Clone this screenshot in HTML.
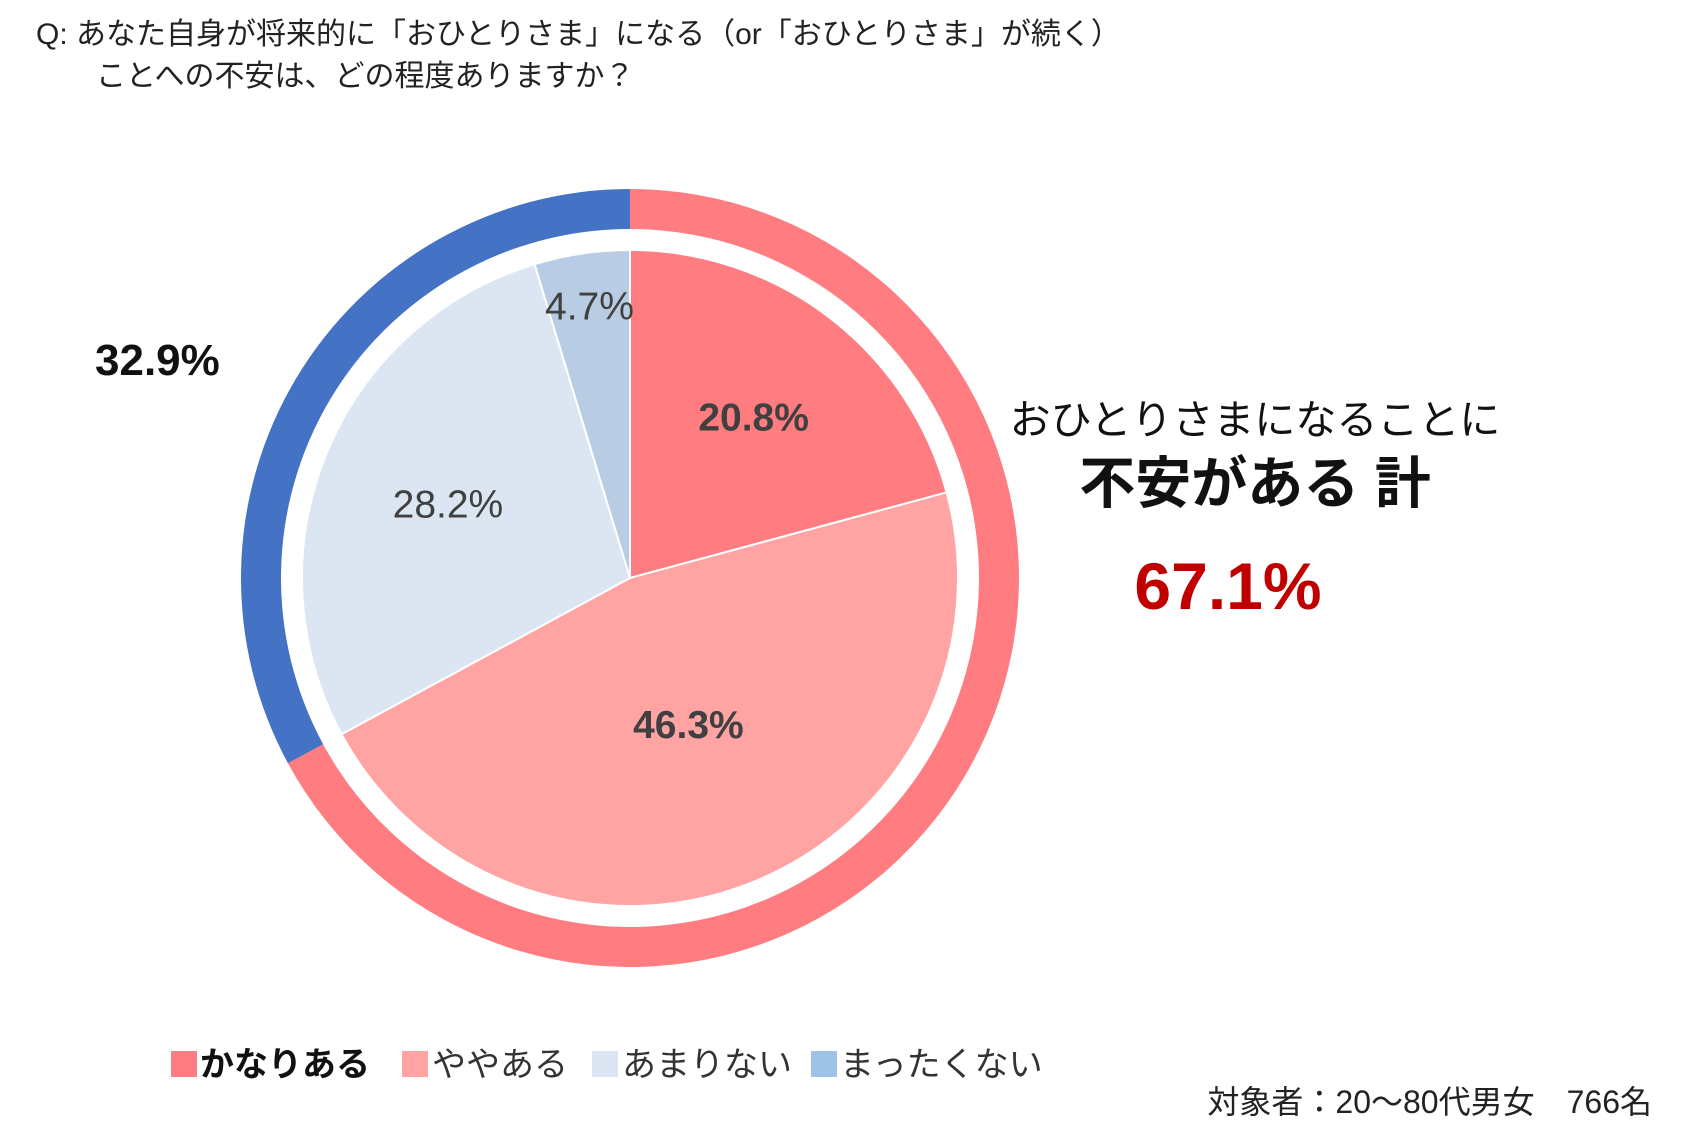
<!DOCTYPE html>
<html><head><meta charset="utf-8"><style>
body{margin:0;background:#fff;}
svg text{font-family:"Liberation Sans","Noto Sans CJK JP",sans-serif;}
</style></head><body>
<svg id="chart" width="1684" height="1136" viewBox="0 0 1684 1136" xmlns="http://www.w3.org/2000/svg">
<rect width="1684" height="1136" fill="#fff"/>
<text x="36" y="44" font-size="30" fill="#222">Q: あなた自身が将来的に「おひとりさま」になる（or「おひとりさま」が続く）</text>
<text x="96" y="86" font-size="30" fill="#222">ことへの不安は、どの程度ありますか？</text>
<g id="ring"></g>
<g id="pie"></g>
<g id="labels"></g>
<text id="ringLabelBlue" x="95" y="375" font-size="44" font-weight="bold" fill="#111">32.9%</text>
<text x="1255" y="434" font-size="41" text-anchor="middle" fill="#111">おひとりさまになることに</text>
<text x="1255" y="503" font-size="56" font-weight="bold" text-anchor="middle" fill="#111">不安がある 計</text>
<text id="ringLabelPink" x="1228" y="609" font-size="66" font-weight="bold" text-anchor="middle" fill="#c00000">67.1%</text>
<g>
 <rect x="171" y="1051" width="26" height="26" fill="#ff7c80"/>
 <text x="200" y="1076" font-size="34" font-weight="bold" fill="#111">かなりある</text>
 <rect x="402" y="1051" width="26" height="26" fill="#ffa3a3"/>
 <text x="432" y="1076" font-size="34" fill="#333">ややある</text>
 <rect x="592" y="1051" width="26" height="26" fill="#dce6f2"/>
 <text x="622" y="1076" font-size="34" fill="#333">あまりない</text>
 <rect x="811" y="1051" width="26" height="26" fill="#9dc3e6"/>
 <text x="840" y="1076" font-size="34" fill="#333">まったくない</text>
</g>
<text x="1652" y="1113" font-size="32" text-anchor="end" fill="#222">対象者：20～80代男女　766名</text>
</svg>
<script>
const categories=["かなりある","ややある","あまりない","まったくない"];
const values=[20.8,46.3,28.2,4.7];
const ringCategories=["不安がある","不安がない"];
const ringValues=[67.1,32.9];
const sliceColors=["#ff7c80","#ffa3a3","#dce6f2","#b8cce4"];
const ringColors=["#ff7c80","#4472c4"];
const cx=630,cy=578,R=389,Ri=349,Rp=328;
const NS="http://www.w3.org/2000/svg";
function pt(r,a){return [cx+r*Math.sin(a),cy-r*Math.cos(a)];}
function ang(v,t){return v/t*2*Math.PI;}
const pie=document.getElementById('pie');
let tot=values.reduce((a,b)=>a+b,0),acc=0;
const lbl=document.getElementById('labels');
const labelR=[0.62,0.48,0.6,0.84];
values.forEach((v,i)=>{
 const a0=ang(acc,tot),a1=ang(acc+v,tot);acc+=v;
 const p0=pt(Rp,a0),p1=pt(Rp,a1);
 const path=document.createElementNS(NS,'path');
 path.setAttribute('d',`M${cx},${cy}L${p0[0]},${p0[1]}A${Rp},${Rp} 0 ${a1-a0>Math.PI?1:0} 1 ${p1[0]},${p1[1]}Z`);
 path.setAttribute('fill',sliceColors[i]);path.setAttribute('stroke','#fff');path.setAttribute('stroke-width','2');
 
 
 pie.appendChild(path);
 const m=pt(Rp*labelR[i],(a0+a1)/2);
 const t=document.createElementNS(NS,'text');
 t.setAttribute('x',m[0]);t.setAttribute('y',m[1]+14);t.setAttribute('text-anchor','middle');
 t.setAttribute('font-size','39');t.setAttribute('fill','#404040');
 if(i<2)t.setAttribute('font-weight','bold');
 
 
 t.textContent=v.toFixed(1)+'%';lbl.appendChild(t);
});
const ring=document.getElementById('ring');
let rt=ringValues.reduce((a,b)=>a+b,0),ra=0;
ringValues.forEach((v,i)=>{
 const a0=ang(ra,rt),a1=ang(ra+v,rt);ra+=v;
 const o0=pt(R,a0),o1=pt(R,a1),n0=pt(Ri,a0),n1=pt(Ri,a1),lg=a1-a0>Math.PI?1:0;
 const path=document.createElementNS(NS,'path');
 path.setAttribute('d',`M${o0[0]},${o0[1]}A${R},${R} 0 ${lg} 1 ${o1[0]},${o1[1]}L${n1[0]},${n1[1]}A${Ri},${Ri} 0 ${lg} 0 ${n0[0]},${n0[1]}Z`);
 path.setAttribute('fill',ringColors[i]);
 
 
 ring.appendChild(path);
});
document.getElementById('ringLabelPink').textContent=ringValues[0].toFixed(1)+'%';
document.getElementById('ringLabelBlue').textContent=ringValues[1].toFixed(1)+'%';
</script>
</body></html>
